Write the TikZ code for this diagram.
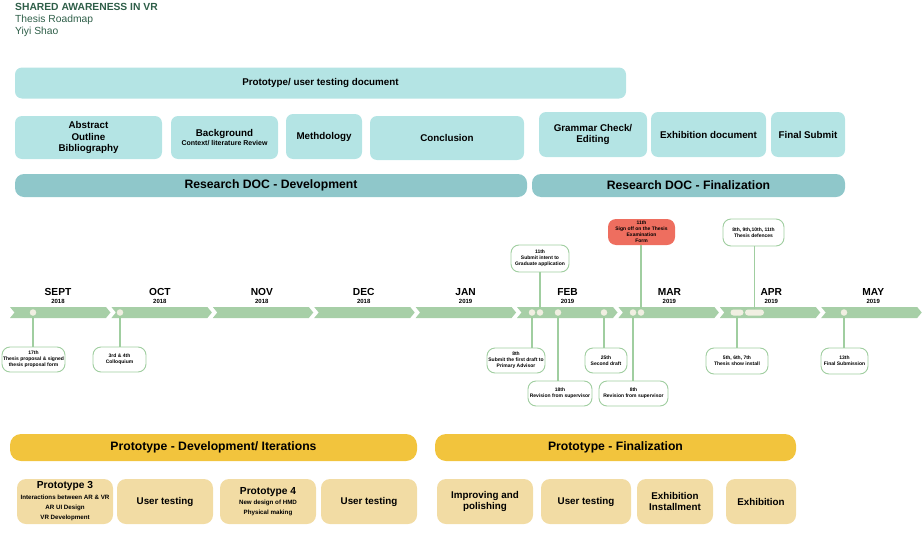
\documentclass[tikz,border=0pt]{standalone}
\usepackage{fontspec}
\setmainfont{Liberation Sans}
\usepackage{tikz}

\definecolor{titlegreen}{RGB}{46,94,72}
\definecolor{docblue}{RGB}{180,228,228}
\definecolor{resteal}{RGB}{143,199,202}
\definecolor{chevgreen}{RGB}{167,207,167}
\definecolor{dotcream}{RGB}{241,239,226}
\definecolor{callgreen}{RGB}{160,206,160}
\definecolor{signred}{RGB}{238,110,95}
\definecolor{protoyellow}{RGB}{242,196,61}
\definecolor{protobeige}{RGB}{242,220,164}

\begin{document}
\begin{tikzpicture}[x=1pt, y=-1pt,
  box/.style = {rounded corners=7pt, inner sep=0pt, align=center, font=\bfseries\fontsize{9.8}{11.8}\selectfont},
  docbox/.style = {box, fill=docblue},
  resbox/.style = {box, fill=resteal, rounded corners=9pt, font=\bfseries\fontsize{12.2}{14}\selectfont},
  protobar/.style = {box, fill=protoyellow, rounded corners=11pt, font=\bfseries\fontsize{12.2}{14}\selectfont},
  protobox/.style = {box, fill=protobeige, rounded corners=9pt},
  callout/.style = {draw=callgreen, line width=0.9pt, fill=white, rounded corners=8pt, inner sep=0pt, align=center, font=\bfseries\fontsize{5}{6.1}\selectfont},
  conn/.style = {draw=callgreen, line width=1.1pt},
  dot/.style = {circle, fill=dotcream, inner sep=0pt, minimum size=6.5pt},
  pill/.style = {rounded corners=3pt, fill=dotcream, inner sep=0pt, minimum height=6pt}
]
\useasboundingbox (0,0) rectangle (924,541);

% header
\node[anchor=north west, inner sep=0pt, align=left, text=titlegreen, font=\fontsize{10.3}{12.3}\selectfont] (title) at (15,3)
  {\textbf{SHARED AWARENESS IN VR}\\Thesis Roadmap\\Yiyi Shao};

% research document
\node[docbox, minimum width=611pt, minimum height=31pt] (doc) at (320.5,83) {Prototype/ user testing document};

\node[docbox, minimum width=147pt, minimum height=43pt] (abs) at (88.5,137.5) {Abstract\\Outline\\Bibliography};
\node[docbox, minimum width=107pt, minimum height=43pt] (bg) at (224.5,137.5) {Background\\[-2pt]{\fontsize{7}{8}\selectfont Context/ literature Review}};
\node[docbox, minimum width=76pt, minimum height=45pt] (meth) at (324,136.5) {Methdology};
\node[docbox, minimum width=154pt, minimum height=44pt] (concl) at (447,138) {Conclusion};
\node[docbox, minimum width=108pt, minimum height=45pt] (gram) at (593,134.5) {Grammar Check/\\Editing};
\node[docbox, minimum width=115pt, minimum height=45pt] (exdoc) at (708.5,134.5) {Exhibition document};
\node[docbox, minimum width=74pt, minimum height=45pt] (final) at (808,134.5) {Final Submit};

\node[resbox, minimum width=512pt, minimum height=23pt] (resdev) at (271,185.5) {Research DOC - Development};
\node[resbox, minimum width=313pt, minimum height=23pt] (resfin) at (688.5,185.5) {Research DOC - Finalization};

% timeline
\foreach \m/\yr [count=\i from 0] in {SEPT/2018, OCT/2018, NOV/2018, DEC/2018, JAN/2019, FEB/2019, MAR/2019, APR/2019, MAY/2019}{
  \pgfmathsetmacro\x{10+101.4*\i}
  \pgfmathsetmacro\lx{58+101.9*\i}
  \fill[chevgreen] (\x,307) -- ++(96,0) -- ++(4.5,5.5) -- ++(-4.5,5.5) -- ++(-96,0) -- ++(4.5,-5.5) -- cycle;
  \node[font=\bfseries\fontsize{10.2}{11}\selectfont, inner sep=0pt] (m\i) at (\lx,292) {\m};
  \node[font=\bfseries\fontsize{6}{7}\selectfont, inner sep=0pt] (y\i) at (\lx,301.5) {\yr};
}

\node[dot] (d1) at (33,312.5) {};
\node[dot] (d2) at (120,312.5) {};
\node[dot] (d3) at (532,312.5) {};
\node[dot] (d4) at (540,312.5) {};
\node[dot] (d5) at (558,312.5) {};
\node[dot] (d6) at (604,312.5) {};
\node[dot] (d7) at (633,312.5) {};
\node[dot] (d8) at (641,312.5) {};
\node[pill, minimum width=13pt] (d9) at (737,312.5) {};
\node[pill, minimum width=19pt] (d10) at (754.5,312.5) {};
\node[dot] (d11) at (844,312.5) {};

% callouts
\node[callout, minimum width=63pt, minimum height=25pt] (c1) at (33.5,359.5) {17th\\Thesis proposal \& signed\\thesis proposal form};
\node[callout, minimum width=53pt, minimum height=25pt] (c2) at (119.5,359.5) {3rd \& 4th\\Colloquium};
\node[callout, minimum width=58pt, minimum height=27pt] (c3) at (540,258.5) {11th\\Submit intent to\\Graduate application};
\node[callout, draw=none, fill=signred, minimum width=67pt, minimum height=26pt] (c4) at (641.5,232) {11th\\Sign off on the Thesis\\Examination\\Form};
\node[callout, minimum width=58pt, minimum height=25pt] (c5) at (516,360.5) {8th\\Submit the first draft to\\Primary Advisor};
\node[callout, minimum width=64pt, minimum height=25pt] (c6) at (560,393.5) {18th\\Revision from supervisor};
\node[callout, minimum width=42pt, minimum height=25pt] (c7) at (606,360.5) {25th\\Second draft};
\node[callout, minimum width=69pt, minimum height=25pt] (c8) at (633.5,393.5) {8th\\Revision from supervisor};
\node[callout, minimum width=61pt, minimum height=27pt] (c9) at (753.5,232.5) {8th, 9th,10th, 11th\\Thesis defences};
\node[callout, minimum width=62pt, minimum height=26pt] (c10) at (737,361) {5th, 6th, 7th\\Thesis show install};
\node[callout, minimum width=47pt, minimum height=26pt] (c11) at (844.5,361) {13th\\Final Submission};

\draw[conn] (d1.south) -- (d1 |- c1.north);
\draw[conn] (d2.south) -- (d2 |- c2.north);
\draw[conn] (d4.north) -- (d4 |- c3.south);
\draw[conn] (d8.north) -- (d8 |- c4.south);
\draw[conn] (d3.south) -- (d3 |- c5.north);
\draw[conn] (d5.south) -- (d5 |- c6.north);
\draw[conn] (d6.south) -- (d6 |- c7.north);
\draw[conn] (d7.south) -- (d7 |- c8.north);
\draw[conn] (d10.north) -- (d10 |- c9.south);
\draw[conn] (d9.south) -- (d9 |- c10.north);
\draw[conn] (d11.south) -- (d11 |- c11.north);

% prototype
\node[protobar, minimum width=407pt, minimum height=27pt] (protodev) at (213.5,447.5) {Prototype - Development/ Iterations};
\node[protobar, minimum width=361pt, minimum height=27pt] (protofin) at (615.5,447.5) {Prototype - Finalization};

\node[protobox, minimum width=96pt, minimum height=45pt] (p3) at (65,501.5) {{\fontsize{10.2}{11}\selectfont Prototype 3}\\[-1.5pt]{\fontsize{6.2}{7}\selectfont Interactions between AR \& VR}\\[-1.5pt]{\fontsize{6.2}{7}\selectfont AR UI Design}\\[-1.5pt]{\fontsize{6.2}{7}\selectfont VR Development}};
\node[protobox, minimum width=96pt, minimum height=45pt] (ut1) at (165,501.5) {User testing};
\node[protobox, minimum width=96pt, minimum height=45pt] (p4) at (268,501.5) {{\fontsize{10.2}{11}\selectfont Prototype 4}\\[-1.5pt]{\fontsize{6.2}{7}\selectfont New design of HMD}\\[-1.5pt]{\fontsize{6.2}{7}\selectfont Physical making}};
\node[protobox, minimum width=96pt, minimum height=45pt] (ut2) at (369,501.5) {User testing};
\node[protobox, minimum width=96pt, minimum height=45pt] (imp) at (485,501.5) {Improving and\\polishing};
\node[protobox, minimum width=90pt, minimum height=45pt] (ut3) at (586,501.5) {User testing};
\node[protobox, minimum width=76pt, minimum height=45pt] (exinst) at (675,501.5) {Exhibition\\Installment};
\node[protobox, minimum width=70pt, minimum height=45pt] (exh) at (761,501.5) {Exhibition};

\end{tikzpicture}
\end{document}
